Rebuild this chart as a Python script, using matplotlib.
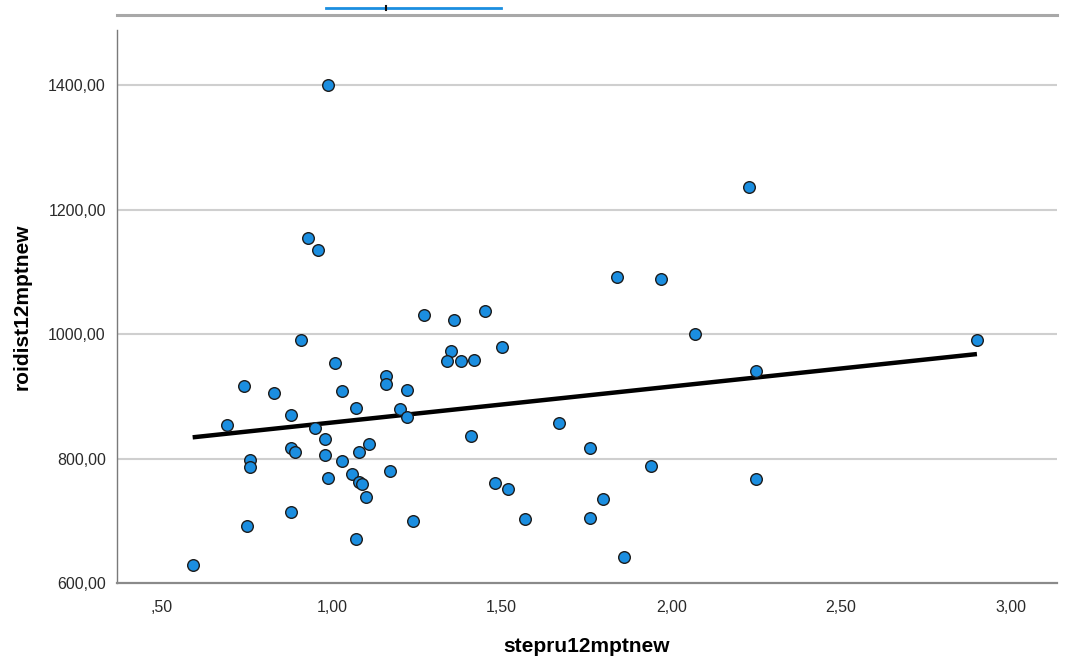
import numpy as np
import matplotlib
matplotlib.use("Agg")
import matplotlib.pyplot as plt
from matplotlib.ticker import FuncFormatter
from matplotlib.lines import Line2D

plt.rcParams['font.family'] = ['Liberation Sans', 'DejaVu Sans']

# stepru12mptnew / roidist12mptnew observations
stepru = [0.99, 0.93, 0.96, 1.27, 1.36, 1.45, 2.23, 1.84, 1.97, 2.07, 2.90,
          2.25, 1.76, 1.94, 2.25, 1.80, 1.76, 1.86, 0.91, 1.50, 1.35, 1.34,
          1.38, 1.42, 1.01, 0.74, 0.83, 1.03, 1.16, 1.16, 1.22, 1.07, 0.88,
          1.20, 1.22, 0.69, 0.95, 0.98, 1.41, 1.67, 1.11, 0.88, 0.89, 0.76,
          0.76, 0.98, 1.08, 1.03, 1.17, 1.06, 0.99, 1.08, 1.09, 1.10, 1.48,
          1.52, 0.88, 0.75, 1.24, 1.57, 1.07, 0.59]
roidist = [1400, 1155, 1135, 1031, 1024, 1037, 1237, 1093, 1089, 1000, 991,
           942, 818, 789, 768, 735, 705, 642, 991, 980, 973, 958,
           958, 959, 954, 917, 906, 909, 934, 921, 911, 882, 871,
           880, 868, 855, 849, 832, 837, 858, 824, 817, 811, 798,
           787, 807, 811, 796, 780, 776, 769, 763, 759, 739, 761,
           752, 715, 692, 701, 703, 671, 630]

x_ticks = [0.5, 1.0, 1.5, 2.0, 2.5, 3.0]
y_ticks = [600, 800, 1000, 1200, 1400]

x = np.array(stepru)
y = np.array(roidist)

fig = plt.figure(figsize=(10.70, 6.62), dpi=100)
ax = fig.add_axes([0.1093, 0.1186, 0.8786, 0.8361])

ax.set_xlim(0.367, 3.136)
ax.set_ylim(600, 1489)

for yt in y_ticks[1:]:
    ax.axhline(yt, color='#cfcfcf', lw=1.5, zorder=0)

# linear fit line over the observed range
slope, intercept = np.polyfit(x, y, 1)
xs = np.array([x.min(), x.max()])
ax.plot(xs, intercept + slope * xs, color='black', lw=3.2, zorder=2,
        solid_capstyle='butt')

ax.scatter(x, y, s=70, facecolor='#1b8ee0', edgecolor='#1c1c1c',
           linewidth=1.0, zorder=3)

def fmt(v, pos):
    s = f"{v:.2f}".replace('.', ',')
    if s.startswith('0,'):
        s = s[1:]
    return s

ax.set_xticks(x_ticks)
ax.set_yticks(y_ticks)
ax.xaxis.set_major_formatter(FuncFormatter(fmt))
ax.yaxis.set_major_formatter(FuncFormatter(fmt))
ax.tick_params(axis='both', length=0, labelsize=11.5, colors='#2a2a2a')
ax.tick_params(axis='x', pad=12)
ax.tick_params(axis='y', pad=8)

for side in ['top', 'right']:
    ax.spines[side].set_visible(False)
ax.spines['left'].set_color('#7a7a7a')
ax.spines['left'].set_linewidth(1.0)
ax.spines['bottom'].set_color('#8a8a8a')
ax.spines['bottom'].set_linewidth(1.6)

ax.set_xlabel('stepru12mptnew', fontsize=15, fontweight='bold', labelpad=16)
ax.set_ylabel('roidist12mptnew', fontsize=15, fontweight='bold', labelpad=12)

# header rule and legend swatch strip
fig.add_artist(Line2D([117 / 1070, 1057 / 1070], [1 - 15 / 662, 1 - 15 / 662],
                      color='#a8a8a8', lw=2.2, transform=fig.transFigure))
fig.add_artist(Line2D([326 / 1070, 501 / 1070], [1 - 8 / 662, 1 - 8 / 662],
                      color='#1b8ee0', lw=2.0, transform=fig.transFigure))
fig.add_artist(Line2D([386 / 1070, 386 / 1070], [1 - 6 / 662, 1 - 10 / 662],
                      color='#111111', lw=1.5, transform=fig.transFigure))

fig.savefig('out.png', dpi=100)
